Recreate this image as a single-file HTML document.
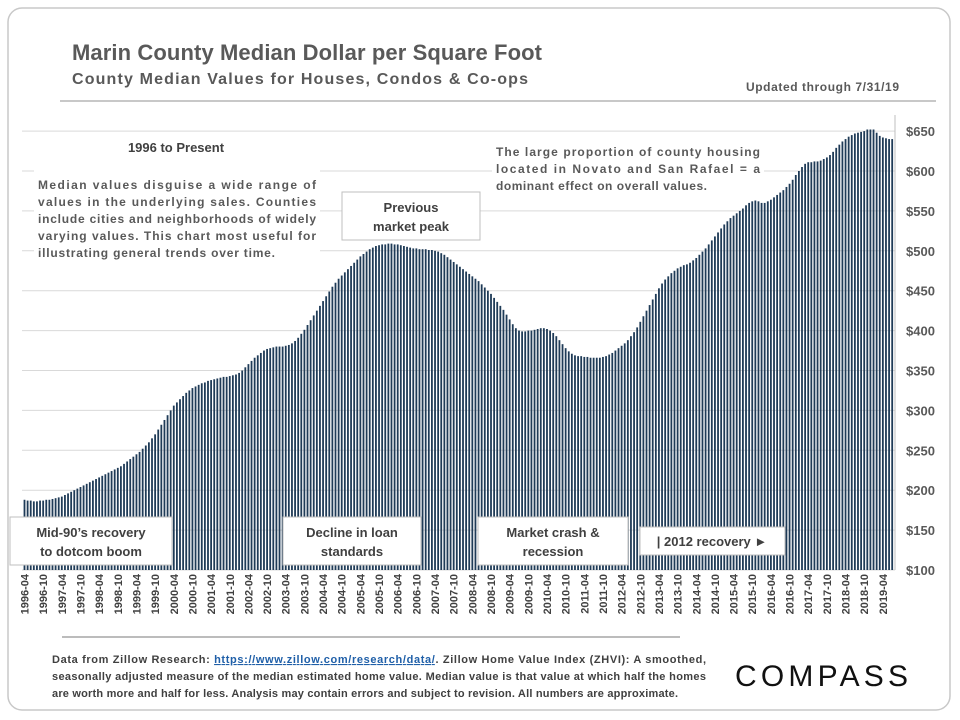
<!DOCTYPE html>
<html><head><meta charset="utf-8"><style>
body{margin:0;background:#fff;}
svg{display:block;font-family:"Liberation Sans",sans-serif;}
</style></head><body>
<svg id="chart" width="960" height="720" viewBox="0 0 960 720">
<rect x="8" y="8" width="942" height="702" rx="14" fill="#fff" stroke="#c8c8c8" stroke-width="1.5"/>
<text x="72" y="60" font-size="22" font-weight="bold" fill="#595959" textLength="470">Marin County Median Dollar per Square Foot</text>
<text x="72" y="84" font-size="16" font-weight="bold" fill="#595959" textLength="456">County Median Values for Houses, Condos &amp; Co-ops</text>
<text x="746" y="91" font-size="12" font-weight="bold" fill="#595959" textLength="153">Updated through 7/31/19</text>
<line x1="60" y1="101" x2="936" y2="101" stroke="#a6a6a6" stroke-width="1.2"/>
<g id="grid"></g>
<g id="bars"></g>
<line x1="895" y1="115" x2="895" y2="570" stroke="#bfbfbf"/>
<g id="yticks"></g>
<g id="xticks"></g>

<g>
<rect x="34" y="134" width="286" height="130" fill="#fff"/>
<text x="176" y="152" font-size="13" font-weight="bold" fill="#404040" text-anchor="middle">1996 to Present</text>
<g font-size="12" font-weight="bold" fill="#595959">
<text x="38" y="189" textLength="278">Median values disguise a wide range of</text>
<text x="38" y="206" textLength="278">values in the underlying sales. Counties</text>
<text x="38" y="223" textLength="278">include cities and neighborhoods of widely</text>
<text x="38" y="240" textLength="278">varying values.  This chart most useful for</text>
<text x="38" y="257" textLength="237">illustrating general trends over time.</text>
</g></g>
<g>
<rect x="492" y="140" width="272" height="58" fill="#fff"/>
<g font-size="12" font-weight="bold" fill="#595959">
<text x="496" y="156" textLength="264">The large proportion of county housing</text>
<text x="496" y="173" textLength="264">located in Novato and San Rafael = a</text>
<text x="496" y="190" textLength="211">dominant effect on overall values.</text>
</g></g>
<g>
<rect x="342" y="192" width="138" height="48" fill="#fff" stroke="#bfbfbf"/>
<text x="411" y="212" font-size="13" font-weight="bold" fill="#404040" text-anchor="middle">Previous</text>
<text x="411" y="231" font-size="13" font-weight="bold" fill="#404040" text-anchor="middle">market peak</text>
</g>
<g>
<rect x="10" y="517" width="162" height="48" fill="#fff" stroke="#bfbfbf"/>
<text x="91" y="537" font-size="13" font-weight="bold" fill="#404040" text-anchor="middle">Mid-90’s recovery</text>
<text x="91" y="556" font-size="13" font-weight="bold" fill="#404040" text-anchor="middle">to dotcom boom</text>
</g>
<g>
<rect x="283" y="517" width="138" height="48" fill="#fff" stroke="#bfbfbf"/>
<text x="352" y="537" font-size="13" font-weight="bold" fill="#404040" text-anchor="middle">Decline in loan</text>
<text x="352" y="556" font-size="13" font-weight="bold" fill="#404040" text-anchor="middle">standards</text>
</g>
<g>
<rect x="478" y="517" width="150" height="48" fill="#fff" stroke="#bfbfbf"/>
<text x="553" y="537" font-size="13" font-weight="bold" fill="#404040" text-anchor="middle">Market crash &amp;</text>
<text x="553" y="556" font-size="13" font-weight="bold" fill="#404040" text-anchor="middle">recession</text>
</g>
<g>
<rect x="640" y="527" width="145" height="28" fill="#fff" stroke="#bfbfbf"/>
<text x="712" y="546" font-size="13" font-weight="bold" fill="#404040" text-anchor="middle">| 2012 recovery ►</text>
</g>

<line x1="62" y1="637" x2="680" y2="637" stroke="#a6a6a6" stroke-width="1.5"/>
<g font-size="11" font-weight="bold" fill="#404040">
<text x="52" y="663" textLength="654">Data from Zillow Research: <tspan fill="#1f5fa8" text-decoration="underline">https://www.zillow.com/research/data/</tspan>. Zillow Home Value Index (ZHVI): A smoothed,</text>
<text x="52" y="680" textLength="654">seasonally adjusted measure of the median estimated home value. Median value is that value at which half the homes</text>
<text x="52" y="697" textLength="626">are worth more and half for less. Analysis may contain errors and subject to revision. All numbers are approximate.</text>
</g>
<text x="735" y="686" font-size="30" fill="#111" textLength="173">COMPASS</text>
</svg>
<script>
const values = [
188,187,187,186,186,187,187,188,188,
189,190,191,192,194,196,198,200,202,204,206,208,
210,212,214,216,218,220,222,224,226,228,230,233,
236,239,242,245,248,252,256,260,265,270,276,282,
288,294,300,306,310,314,318,322,325,328,330,332,
334,335,337,338,339,340,341,342,342,343,344,345,
347,350,354,358,362,366,369,372,375,377,378,379,
380,380,380,381,382,384,387,391,396,401,407,413,
419,425,431,437,443,449,455,460,465,469,473,477,
481,485,489,493,496,499,502,504,506,507,508,508,
509,509,508,508,507,506,505,504,503,503,502,502,
502,501,501,500,499,497,495,492,489,486,483,480,
477,474,471,468,465,462,458,454,450,446,441,436,
431,426,420,414,408,403,400,399,399,400,400,401,
402,403,403,402,400,397,393,388,383,378,374,371,
369,368,368,367,367,366,366,366,366,367,368,370,
372,375,378,381,384,388,393,398,404,411,418,425,
432,439,446,453,459,464,468,472,475,478,480,482,
483,485,488,491,495,499,503,508,513,518,523,528,
533,537,541,544,547,550,553,557,560,562,563,562,
560,560,562,564,567,570,573,576,580,584,589,595,
600,605,609,611,611,612,612,613,615,617,620,624,
629,633,637,640,643,645,647,648,649,650,652,652,
652,648,644,642,641,640,640];
const startYear = 1996, startMonth = 4;
const yTicks = [100,150,200,250,300,350,400,450,500,550,600,650];
const NS = "http://www.w3.org/2000/svg";
const x = i => 24.5 + i * 3.11;
const y = v => 570 - (v - 100) * 0.798;
function mk(tag, attrs, parent){const e=document.createElementNS(NS,tag);for(const k in attrs)e.setAttribute(k,attrs[k]);parent.appendChild(e);return e;}
const grid=document.getElementById('grid'), bars=document.getElementById('bars'), yt=document.getElementById('yticks'), xt=document.getElementById('xticks');
yTicks.forEach(t=>{
  const l=mk('line',{x1:22,x2:895,y1:y(t),y2:y(t),stroke:'#d9d9d9','stroke-width':1},grid);
  
  
  const tx=mk('text',{x:906,y:y(t)+5,'font-size':13,'font-weight':'bold',fill:'#595959'},yt);
  tx.textContent='$'+t;
  
  
});
values.forEach((v,i)=>{
  const r=mk('rect',{x:x(i)-0.9,y:y(v),width:1.8,height:570-y(v),fill:'#1f3b57'},bars);
  
  
  const m=(startMonth-1+i)%12+1, yr=startYear+Math.floor((startMonth-1+i)/12);
  if(m===4||m===10){
    const lab=yr+'-'+(m<10?'0'+m:m);
    const t=mk('text',{x:0,y:0,'font-size':11,'font-weight':'bold',fill:'#404040','text-anchor':'end',transform:`translate(${x(i)+4},574) rotate(-90)`},xt);
    t.textContent=lab;
    
    
  }
});
</script>
</body></html>
